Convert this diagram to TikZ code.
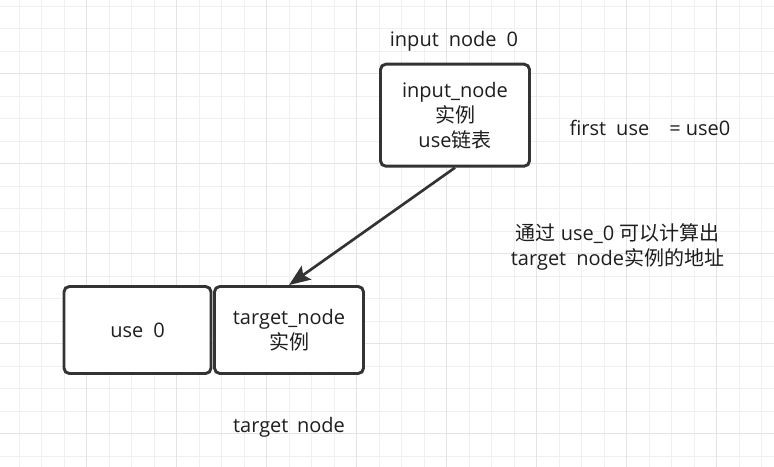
\documentclass[tikz,border=0pt]{standalone}
\usepackage{fontspec}
\setmainfont{Open Sans}
\newfontfamily\cjk{Noto Sans CJK SC}
\usetikzlibrary{arrows.meta}
\definecolor{gridminor}{RGB}{240, 240, 240}
\definecolor{gridmajor}{RGB}{228, 228, 228}
\definecolor{edgegray}{RGB}{51, 51, 51}
\definecolor{textgray}{RGB}{30, 30, 30}

\begin{document}
\begin{tikzpicture}[
    x=0.75pt, y=-0.75pt,
    font=\fontsize{15}{18.75}\selectfont,
    text=textgray,
    box/.style={
        rectangle, rounded corners=4pt,
        draw=edgegray, fill=white, line width=2.2pt,
        inner sep=0pt, align=center, minimum width=111.75pt, minimum height=65.25pt
    },
    lbl/.style={
        inner sep=0pt, align=center
    },
    arrow/.style={
        -{Stealth[length=16pt, width=12.5pt, inset=3pt]},
        line width=2pt, draw=edgegray
    },
    gridline/.style={draw=gridminor, line width=1pt},
    gridbold/.style={draw=gridmajor, line width=1.1pt}
]
\useasboundingbox (0,0) rectangle (774,467);

% 0. Grid background
\fill[white] (0,0) rectangle (774,467);
\foreach \gx in {0,...,33}
    \draw[gridline] ({19.2+22.5*\gx},0) -- ({19.2+22.5*\gx},467);
\foreach \gy in {0,...,20}
    \draw[gridline] (0,{6.2+22.5*\gy}) -- (774,{6.2+22.5*\gy});
\foreach \gx in {0,...,7}
    \draw[gridbold] ({86.7+90*\gx},0) -- ({86.7+90*\gx},467);
\foreach \gy in {0,...,4}
    \draw[gridbold] (0,{73.7+90*\gy}) -- (774,{73.7+90*\gy});

% 1. input node
\node[lbl] (inlabel) at (454, 41) {input\enspace node\enspace 0};
\node[box, minimum height=76.5pt] (input) at (455, 115.2) {
    input\_node\\
    {\cjk 实例}\\
    use{\cjk 链表}
};

% 2. first use
\node[lbl] (firstuse) at (650, 128) {first\enspace use\quad = use0};

% 3. target node + use
\node[box, minimum width=110.25pt] (use) at (137.5, 330) {use\enspace 0};
\node[box] (target) at (289, 330) {
    target\_node\\
    {\cjk 实例}
};
\node[lbl] (targetlabel) at (289, 427) {target\ \,node};

% 4. note
\node[lbl] (note) at (617.5, 247) {
    {\cjk 通过} use\_0 {\cjk 可以计算出}\\
    target\enspace node{\cjk 实例的地址}
};

% 5. use -> target_node
\draw[arrow] (input.south) -- (target.north);

\end{tikzpicture}
\end{document}
